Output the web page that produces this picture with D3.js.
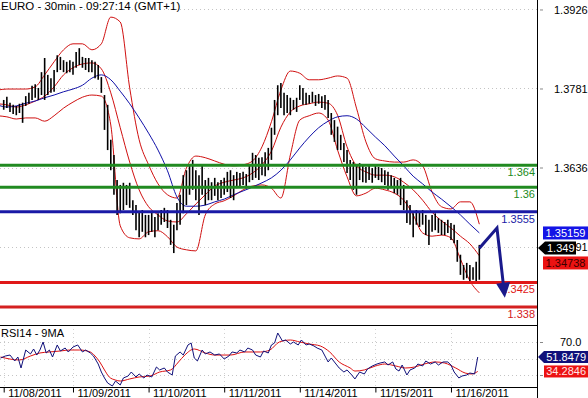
<!DOCTYPE html>
<html><head><meta charset="utf-8">
<script src="https://cdn.jsdelivr.net/npm/d3@7"></script>
<style>
html,body{margin:0;padding:0;background:#fff;}
svg{display:block;font-family:"Liberation Sans",Arial,sans-serif;}
</style></head><body>
<svg id="c" width="588" height="398"></svg>
<script>
// ---------------- DATA ----------------
const chartTitle = "EURO - 30min - 09:27:14 (GMT+1)";
const rsiTitle = "RSI14 - 9MA";
const dateTickHours = [2, 24, 48, 72, 96, 120, 144];
const dateLabels = ["11/08/2011","11/09/2011","11/10/2011","11/11/2011","11/14/2011","11/15/2011","11/16/2011"];
const priceTicks = [1.3926, 1.3781, 1.3636, 1.3491];
const priceTickLabels = ["1.3926","1.3781","1.3636","1.3491"];
const rsiTicks = [70, 50, 30];
const rsiLabelTicks = [70];
const rsiTickLabels = ["70.0"];

// price bars (hours since 11/08 00:00, first bar at hour 2)
const firstBarHour = 2;
const barHigh = [
1.3760,1.3766,1.3755,1.3751,1.3749,1.3753,1.3755,1.3767,1.3773,1.3786,
1.3789,1.3782,1.3811,1.3837,1.3806,1.3800,1.3815,1.3842,1.3839,1.3833,
1.3830,1.3833,1.3830,1.3848,1.3855,1.3839,1.3837,1.3837,1.3833,1.3830,
1.3824,1.3802,1.3769,1.3751,1.3687,1.3659,1.3613,1.3604,1.3608,1.3604,
1.3608,1.3576,1.3567,1.3554,1.3558,1.3549,1.3549,1.3554,1.3545,1.3552,
1.3558,1.3562,1.3558,1.3540,1.3531,1.3571,1.3586,1.3622,1.3631,1.3641,
1.3650,1.3631,1.3622,1.3641,1.3613,1.3617,1.3609,1.3617,1.3609,1.3613,
1.3617,1.3628,1.3631,1.3622,1.3628,1.3626,1.3628,1.3624,1.3641,1.3663,
1.3659,1.3654,1.3655,1.3664,1.3672,1.3709,1.3760,1.3787,1.3791,1.3773,
1.3769,1.3764,1.3760,1.3764,1.3787,1.3782,1.3773,1.3769,1.3775,1.3769,
1.3771,1.3767,1.3769,1.3760,1.3736,1.3723,1.3711,1.3696,1.3681,1.3668,
1.3650,1.3646,1.3641,1.3644,1.3641,1.3637,1.3641,1.3635,1.3641,1.3637,
1.3635,1.3631,1.3628,1.3622,1.3617,1.3613,1.3617,1.3604,1.3576,1.3567,
1.3552,1.3558,1.3554,1.3558,1.3549,1.3540,1.3549,1.3552,1.3543,1.3540,
1.3536,1.3540,1.3534,1.3531,1.3503,1.3476,1.3457,1.3461,1.3457,1.3453,
1.3463,1.3494];
const barLow = [
1.3742,1.3745,1.3738,1.3734,1.3732,1.3736,1.3718,1.3749,1.3753,1.3760,
1.3764,1.3760,1.3769,1.3760,1.3769,1.3773,1.3775,1.3811,1.3815,1.3811,
1.3809,1.3811,1.3806,1.3819,1.3824,1.3819,1.3815,1.3811,1.3811,1.3800,
1.3797,1.3773,1.3705,1.3668,1.3631,1.3586,1.3549,1.3552,1.3558,1.3567,
1.3562,1.3549,1.3521,1.3508,1.3518,1.3508,1.3512,1.3518,1.3508,1.3521,
1.3531,1.3536,1.3525,1.3494,1.3479,1.3521,1.3531,1.3552,1.3567,1.3586,
1.3595,1.3576,1.3549,1.3586,1.3567,1.3576,1.3576,1.3584,1.3576,1.3580,
1.3586,1.3591,1.3580,1.3576,1.3598,1.3600,1.3604,1.3598,1.3609,1.3613,
1.3617,1.3613,1.3622,1.3620,1.3631,1.3650,1.3696,1.3732,1.3745,1.3732,
1.3736,1.3732,1.3742,1.3738,1.3760,1.3751,1.3751,1.3753,1.3755,1.3749,
1.3753,1.3745,1.3742,1.3727,1.3696,1.3683,1.3668,1.3668,1.3646,1.3626,
1.3613,1.3595,1.3586,1.3613,1.3609,1.3608,1.3613,1.3608,1.3617,1.3613,
1.3609,1.3604,1.3595,1.3598,1.3589,1.3586,1.3567,1.3558,1.3534,1.3531,
1.3508,1.3531,1.3527,1.3531,1.3512,1.3494,1.3518,1.3521,1.3516,1.3512,
1.3512,1.3516,1.3503,1.3497,1.3463,1.3439,1.3430,1.3433,1.3426,1.3430,
1.3426,1.3430];

// indicator lines, sampled every 3 hours from hour 0 to 153
const bandStepHours = 3;
const upperBand = [
1.3778,1.3780,1.3780,1.3780,1.3784,1.3806,1.3830,1.3852,1.3863,1.3863,
1.3852,1.3863,1.3912,1.3903,1.3782,1.3687,1.3641,1.3606,1.3586,1.3580,
1.3635,1.3657,1.3654,1.3648,1.3642,1.3639,1.3641,1.3648,1.3674,1.3720,
1.3778,1.3813,1.3809,1.3797,1.3797,1.3800,1.3804,1.3800,1.3745,1.3683,
1.3652,1.3648,1.3646,1.3646,1.3650,1.3639,1.3591,1.3564,1.3560,1.3573,
1.3573,1.3532];
const middleBand = [
1.3753,1.3751,1.3747,1.3751,1.3758,1.3767,1.3784,1.3806,1.3819,1.3826,
1.3828,1.3817,1.3773,1.3709,1.3646,1.3595,1.3564,1.3549,1.3538,1.3536,
1.3551,1.3569,1.3586,1.3602,1.3609,1.3613,1.3617,1.3626,1.3641,1.3666,
1.3710,1.3738,1.3749,1.3753,1.3756,1.3754,1.3732,1.3674,1.3639,1.3628,
1.3622,1.3622,1.3619,1.3609,1.3595,1.3576,1.3554,1.3538,1.3525,1.3510,
1.3496,1.3474];
const lowerBand = [
1.3731,1.3729,1.3725,1.3727,1.3727,1.3721,1.3731,1.3745,1.3756,1.3765,
1.3769,1.3767,1.3714,1.3529,1.3507,1.3505,1.3518,1.3520,1.3509,1.3490,
1.3485,1.3483,1.3549,1.3569,1.3575,1.3584,1.3595,1.3602,1.3604,1.3598,
1.3580,1.3659,1.3723,1.3731,1.3736,1.3723,1.3668,1.3619,1.3584,1.3589,
1.3598,1.3595,1.3589,1.3576,1.3549,1.3516,1.3510,1.3512,1.3507,1.3468,
1.3428,1.3406];
const movingAvg = [
1.3751,1.3747,1.3749,1.3754,1.3758,1.3764,1.3769,1.3775,1.3780,1.3787,
1.3800,1.3806,1.3797,1.3776,1.3753,1.3727,1.3699,1.3668,1.3630,1.3582,
1.3565,1.3565,1.3567,1.3573,1.3578,1.3586,1.3593,1.3600,1.3608,1.3617,
1.3631,1.3650,1.3672,1.3692,1.3709,1.3721,1.3729,1.3731,1.3725,1.3709,
1.3692,1.3676,1.3657,1.3639,1.3620,1.3606,1.3591,1.3578,1.3564,1.3549,
1.3532,1.3516];

// RSI14 and its 9MA
const rsiHours = [1,2.5,4,5.5,6.5,7.5,9,10.5,11.5,12.5,13.5,14.5,15.5,16.5,17.5,19,20,21.5,22.5,24,
25.5,27,28,29.5,30.5,32,33,34,35,36.5,37.5,39,40,41.5,42.5,44,45,46.5,47.5,49,
50.5,51.5,53,54,55.5,56.5,58,59,60.5,61.5,62.5,63.5,65,66,67.5,69,70.5,72,73.5,74.5,
76,77,78.5,79.5,81,82,83.5,84.5,86,87,88,89,90.5,91.5,93,94,95.5,96.5,98,99,
100.5,101.5,103,104,105,106,107.5,108.5,110,111,112.5,113.5,115,116.5,117.5,119,120.5,121.5,123,124,
125.5,126.5,127.5,128.5,130,131,132.5,133.5,135,136,137.5,139,140,141.5,143,144,145,146.5,147.5,149,
150,151.5,152.5];
const rsiValues = [50.6,53.0,54.2,47.0,51.8,38.5,60.3,55.5,61.5,54.2,60.3,70.0,56.7,60.3,51.8,66.4,59.1,62.7,57.9,63.9,
66.4,57.9,60.3,56.7,53.0,43.3,33.6,26.4,20.3,16.7,22.7,17.9,26.4,28.8,33.6,27.6,31.2,26.4,30.0,27.6,
39.7,36.1,38.5,33.6,30.0,53.0,57.9,54.2,66.4,68.8,50.6,47.0,60.3,55.5,57.9,54.2,55.5,49.4,53.0,57.9,
56.7,60.3,57.9,62.7,60.3,54.2,51.8,59.1,56.7,66.4,68.8,80.9,71.2,72.4,67.6,70.0,66.4,72.4,66.4,67.6,
65.2,62.7,60.3,53.0,45.8,50.6,43.3,38.5,33.6,36.1,30.0,25.2,33.6,31.2,37.3,40.9,43.3,44.5,45.8,42.1,
45.8,37.3,34.8,42.1,30.0,36.1,38.5,43.3,40.9,47.0,43.3,45.8,42.1,45.8,45.8,42.1,33.6,26.4,28.8,30.0,
32.4,31.2,51.8];
const rsiMaHours = [1,7,10.5,13.5,16.5,20,23,26,29.5,31,32.5,34,35.5,37.5,39,42,45,48.5,51.5,55,
57.5,59.5,62.5,66,69,74,78.5,83.5,86.5,89.5,93,96,99,102.5,105.5,108.5,112,113.5,116.5,120,
123,126.5,129.5,132.5,135.5,139,142,145.5,148.5,150.5,152.5];
const rsiMaValues = [51.8,48.2,53.0,56.7,57.9,59.1,60.3,60.3,57.9,53.0,45.8,36.1,27.6,23.9,22.7,25.2,27.6,28.8,33.6,36.1,
45.8,54.2,61.5,56.7,54.2,54.2,57.9,57.9,60.3,70.0,72.4,70.0,67.6,65.2,57.9,45.8,38.5,34.8,36.1,40.9,
43.3,40.9,38.5,39.7,43.3,45.8,44.5,38.5,32.4,31.2,34.3];

// support / resistance levels
const levelValues = [1.364, 1.36, 1.3555, 1.3425, 1.338];
const levelLabels = ["1.364","1.36","1.3555","1.3425","1.338"];
const levelColors = ["#218a21","#218a21","#1a1aa6","#e01818","#d42020"];

// forecast arrow (hour, price)
const arrowHours = [153, 158.6, 161.1];
const arrowPrices = [1.3488, 1.3525, 1.3397];

// last-value tags
const priceTagValues = [1.35159, 1.349, 1.34738];
const priceTagTexts = ["1.35159","1.349","1.34738"];
const priceTagColors = ["#1414e6","#000000","#ec1212"];
const priceTagTextColors = ["#ffffff","#ffffff","#3a0000"];
const priceTagPointer = [false, true, false];
const rsiTagValues = [51.8479, 34.2846];
const rsiTagTexts = ["51.8479","34.2846"];
const rsiTagColors = ["#10107a","#ec1212"];
const rsiTagTextColors = ["#ffffff","#ffe6e6"];
const rsiTagPointer = [true, false];

// ---------------- DRAW ----------------
const svg = d3.select("#c");
const plotRight = 537, mainBottom = 325, rsiTop = 325, rsiBottom = 387;
const x = d3.scaleLinear().domain([0, 171.5]).range([-2.6, 537.6]);
const y = d3.scaleLinear().domain([1.39434, 1.3347]).range([0, mainBottom]);
const yr = d3.scaleLinear().domain([70, 30]).range([342, 375]);

const defs = svg.append("defs");
defs.append("clipPath").attr("id","mainClip").append("rect")
  .attr("x",0).attr("y",0).attr("width",plotRight).attr("height",mainBottom);
defs.append("clipPath").attr("id","rsiClip").append("rect")
  .attr("x",0).attr("y",rsiTop+1).attr("width",plotRight).attr("height",rsiBottom-rsiTop-1);

const main = svg.append("g").attr("clip-path","url(#mainClip)");

// dotted price gridlines
main.selectAll("line.pg").data(priceTicks).join("line")
  .attr("x1",0).attr("x2",plotRight)
  .attr("y1",d=>Math.round(y(d))+0.5).attr("y2",d=>Math.round(y(d))+0.5)
  .attr("stroke","#c4c4c4").attr("stroke-dasharray","1,3");

// indicator lines
const bandPts = arr => arr.map((v,i)=>[i*bandStepHours, v]);
const lineGen = d3.line().x(d=>x(d[0])).y(d=>y(d[1])).curve(d3.curveMonotoneX);
[[upperBand,"#d01010"],[middleBand,"#d01010"],[lowerBand,"#d01010"],[movingAvg,"#1010a8"]]
  .forEach(([arr,col])=>{
    main.append("path").attr("d",lineGen(bandPts(arr)))
      .attr("fill","none").attr("stroke",col).attr("stroke-width",1);
  });

// price bars
const bars = barHigh.map((h,i)=>({t:firstBarHour+i, hi:h, lo:barLow[i]}));
main.selectAll("line.bar").data(bars).join("line")
  .attr("x1",d=>x(d.t)).attr("x2",d=>x(d.t))
  .attr("y1",d=>y(d.hi)).attr("y2",d=>y(d.lo))
  .attr("stroke","#000").attr("stroke-width",1.6);

// horizontal levels
main.selectAll("line.lvl").data(levelValues).join("line")
  .attr("x1",0).attr("x2",plotRight)
  .attr("y1",d=>y(d)).attr("y2",d=>y(d))
  .attr("stroke",(d,i)=>levelColors[i]).attr("stroke-width",3);
main.selectAll("text.lvl").data(levelValues).join("text")
  .attr("x",plotRight-2).attr("y",d=>y(d)+11)
  .attr("text-anchor","end").attr("font-size",11)
  .attr("fill",(d,i)=>levelColors[i]).text((d,i)=>levelLabels[i]);

// forecast arrow
const ap = arrowHours.map((h,i)=>[x(h), y(arrowPrices[i])]);
const tip = ap[2], prev = ap[1];
const dx = tip[0]-prev[0], dy = tip[1]-prev[1], len = Math.hypot(dx,dy);
const ux = dx/len, uy = dy/len, headL = 15, headW = 7;
const base = [tip[0]-ux*headL, tip[1]-uy*headL];
main.append("path")
  .attr("d", d3.line()([ap[0], ap[1], [base[0]+ux*2, base[1]+uy*2]]))
  .attr("fill","none").attr("stroke","#1a1a8c").attr("stroke-width",3).attr("stroke-linejoin","miter");
main.append("path")
  .attr("d", d3.line()([[base[0]-uy*headW, base[1]+ux*headW],[base[0]+uy*headW, base[1]-ux*headW],tip])+"Z")
  .attr("fill","#1a1a8c");

// title
svg.append("text").attr("x",1).attr("y",10).attr("font-size",11.5).attr("fill","#000").text(chartTitle);

// ---------- RSI panel ----------
const rsi = svg.append("g").attr("clip-path","url(#rsiClip)");
rsi.selectAll("line.rg").data(rsiTicks).join("line")
  .attr("x1",0).attr("x2",plotRight)
  .attr("y1",d=>Math.round(yr(d))+0.5).attr("y2",d=>Math.round(yr(d))+0.5)
  .attr("stroke","#c4c4c4").attr("stroke-dasharray","1,3");
rsi.selectAll("line.vg").data(dateTickHours).join("line")
  .attr("x1",d=>Math.round(x(d))+0.5).attr("x2",d=>Math.round(x(d))+0.5)
  .attr("y1",rsiTop).attr("y2",rsiBottom)
  .attr("stroke","#d0d0d0").attr("stroke-dasharray","1,3");
const rLine = d3.line().x(d=>x(d[0])).y(d=>yr(d[1]));
rsi.append("path")
  .attr("d", d3.line().x(d=>x(d[0])).y(d=>yr(d[1])).curve(d3.curveMonotoneX)(rsiMaHours.map((h,i)=>[h,rsiMaValues[i]])))
  .attr("fill","none").attr("stroke","#dd1010").attr("stroke-width",1);
rsi.append("path").attr("d", rLine(rsiHours.map((h,i)=>[h,rsiValues[i]])))
  .attr("fill","none").attr("stroke","#10107a").attr("stroke-width",1);
svg.append("text").attr("x",1).attr("y",337).attr("font-size",11).attr("fill","#000").text(rsiTitle);

// frame lines
svg.append("line").attr("x1",0).attr("x2",plotRight).attr("y1",rsiTop+0.5).attr("y2",rsiTop+0.5).attr("stroke","#000");
svg.append("line").attr("x1",plotRight+0.5).attr("x2",plotRight+0.5).attr("y1",0).attr("y2",398).attr("stroke","#000");

// date axis
const xAxis = d3.axisBottom(x).tickValues(dateTickHours)
  .tickFormat((d,i)=>dateLabels[i]).tickSize(5).tickSizeOuter(0).tickPadding(0);
const gx = svg.append("g").attr("transform",`translate(0,${rsiBottom+0.5})`).call(xAxis);
gx.select(".domain").attr("d",`M0,0H${plotRight}`).attr("stroke","#000");
gx.selectAll(".tick line").attr("stroke","#000");
gx.selectAll(".tick text").attr("text-anchor","start").attr("x",4).attr("y",1.5)
  .attr("dy","0.71em").attr("font-size",11).attr("font-family","Liberation Sans, Arial, sans-serif").attr("fill","#000");

// price axis
const yAxis = d3.axisRight(y).tickValues(priceTicks).tickFormat((d,i)=>priceTickLabels[i])
  .tickSize(6).tickPadding(11).tickSizeOuter(0);
const gy = svg.append("g").attr("transform",`translate(${plotRight},0)`).call(yAxis);
gy.select(".domain").remove();
gy.selectAll(".tick line").attr("x1",3).attr("stroke","#888");
gy.selectAll(".tick text").attr("font-size",11).attr("font-family","Liberation Sans, Arial, sans-serif").attr("fill","#000");

// rsi axis: tick dashes at all levels, label only where the reference shows one
const rAxis = d3.axisRight(yr).tickValues(rsiTicks).tickFormat("")
  .tickSize(6).tickSizeOuter(0);
const gr = svg.append("g").attr("transform",`translate(${plotRight},0)`).call(rAxis);
gr.select(".domain").remove();
gr.selectAll(".tick line").attr("x1",3).attr("stroke","#888");
svg.selectAll("text.rl").data(rsiLabelTicks).join("text")
  .attr("x",plotRight+23).attr("y",d=>yr(d)+4).attr("font-size",11).attr("fill","#000")
  .text((d,i)=>rsiTickLabels[i]);

// tags
function drawTags(values, texts, colors, tcolors, pointers, scale){
  const h = 13;
  const items = values.map((v,i)=>({i, c: scale(v)})).sort((a,b)=>a.c-b.c);
  let lastBottom = -Infinity;
  items.forEach(it=>{
    let top = it.c - h/2;
    if (top < lastBottom + 2) top = lastBottom + 2;
    lastBottom = top + h;
    const i = it.i, g = svg.append("g");
    if (pointers[i]) {
      g.append("path").attr("d", d3.line()([[plotRight+1, top+h/2],[plotRight+8, top],[plotRight+39, top],[plotRight+39, top+h],[plotRight+8, top+h]])+"Z")
        .attr("fill", colors[i]);
      g.append("text").attr("x", plotRight+10).attr("y", top+h-2.5).attr("font-size",11)
        .attr("fill", tcolors[i]).text(texts[i]);
    } else {
      g.append("rect").attr("x", plotRight+6).attr("y", top).attr("width", 45).attr("height", h).attr("fill", colors[i]);
      g.append("text").attr("x", plotRight+28.5).attr("y", top+h-2.5).attr("font-size",11)
        .attr("text-anchor","middle").attr("fill", tcolors[i]).text(texts[i]);
    }
  });
}
drawTags(priceTagValues, priceTagTexts, priceTagColors, priceTagTextColors, priceTagPointer, y);
(function(){
  const h = 12;
  rsiTagValues.forEach((v,i)=>{
    const top = yr(v) - h/2;
    if (rsiTagPointer[i]) {
      svg.append("path").attr("d", d3.line()([[plotRight+1, top+h/2],[plotRight+7, top],[588, top],[588, top+h],[plotRight+7, top+h]])+"Z")
        .attr("fill", rsiTagColors[i]);
    } else {
      svg.append("rect").attr("x", plotRight+7).attr("y", top).attr("width", 588-plotRight-7).attr("height", h).attr("fill", rsiTagColors[i]);
    }
    svg.append("text").attr("x", 586).attr("y", top+h-2).attr("font-size",11).attr("text-anchor","end")
      .attr("fill", rsiTagTextColors[i]).text(rsiTagTexts[i]);
  });
})();
</script>
</body></html>
